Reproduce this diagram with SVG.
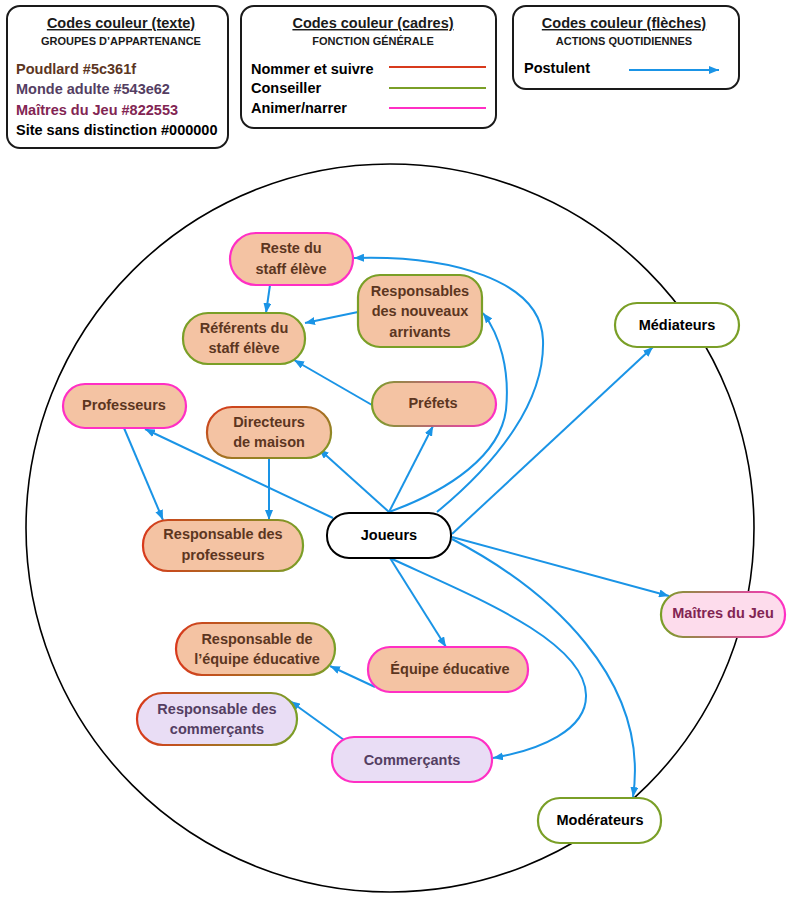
<svg xmlns="http://www.w3.org/2000/svg" width="787" height="900" viewBox="0 0 787 900">
<defs>
<style>
.box{fill:#fff;stroke:#1a1a1a;stroke-width:2}
.t{font-family:"Liberation Sans",Arial,sans-serif;font-weight:bold;font-size:14.5px}
.c{text-anchor:middle}
.sub{font-family:"Liberation Sans",Arial,sans-serif;font-weight:bold;font-size:11px;text-anchor:middle;fill:#1a1a1a}
.brown{fill:#5c361f}
.purple{fill:#543e62}
.mj{fill:#822553}
.blk{fill:#000}
.peach{fill:#f4c3a3}
.lav{fill:#e9ddf5}
.pinkf{fill:#fddcec}
.white{fill:#fff}
.sp{stroke:#ff2fc4;stroke-width:2.2}
.sg{stroke:#7a9f27;stroke-width:2.2}
.sk{stroke:#000;stroke-width:2}
.srg{stroke:url(#gRG);stroke-width:2.2}
.srgd{stroke:url(#gRGd);stroke-width:2.2}
.sgp{stroke:url(#gGP);stroke-width:2.2}
.arr{fill:none;stroke:#1a94e6;stroke-width:2;marker-end:url(#ah)}
</style>
<linearGradient id="gRG" x1="0" y1="0" x2="1" y2="0">
<stop offset="0" stop-color="#d83a1c"/><stop offset="1" stop-color="#7a9f27"/>
</linearGradient>
<linearGradient id="gRGd" x1="0" y1="0" x2="1" y2="1">
<stop offset="0" stop-color="#d83a1c"/><stop offset="1" stop-color="#7a9f27"/>
</linearGradient>
<linearGradient id="gGP" x1="0" y1="0" x2="1" y2="0">
<stop offset="0" stop-color="#7a9f27"/><stop offset="1" stop-color="#ff2fc4"/>
</linearGradient>
<marker id="ah" markerUnits="userSpaceOnUse" markerWidth="10" markerHeight="8" viewBox="0 0 10 8" refX="10" refY="4" orient="auto">
<path d="M0,0 L10,4 L0,8 z" fill="#1a94e6"/>
</marker>
</defs>
<rect width="787" height="900" fill="#fff"/>

<g id="legend-texte">
<rect class="box" x="7" y="6" width="221" height="142" rx="13"/>
<text class="t c" x="121" y="28" text-decoration="underline" fill="#1a1a1a">Codes couleur (texte)</text>
<text class="sub" x="121" y="45">GROUPES D’APPARTENANCE</text>
<text class="t brown" x="16" y="74">Poudlard #5c361f</text>
<text class="t purple" x="16" y="94">Monde adulte #543e62</text>
<text class="t mj" x="16" y="115">Maîtres du Jeu #822553</text>
<text class="t blk" x="16" y="135">Site sans distinction #000000</text>
</g>

<g id="legend-cadres">
<rect class="box" x="241" y="6" width="255" height="122" rx="13"/>
<text class="t c" x="373" y="28" text-decoration="underline" fill="#1a1a1a">Codes couleur (cadres)</text>
<text class="sub" x="373" y="45">FONCTION GÉNÉRALE</text>
<text class="t blk" x="251" y="74">Nommer et suivre</text>
<text class="t blk" x="251" y="93">Conseiller</text>
<text class="t blk" x="251" y="113">Animer/narrer</text>
<line x1="389" y1="67" x2="486" y2="67" stroke="#d83a1c" stroke-width="2"/>
<line x1="389" y1="88" x2="486" y2="88" stroke="#7a9f27" stroke-width="2"/>
<line x1="389" y1="108" x2="486" y2="108" stroke="#ff2fc4" stroke-width="2"/>
</g>

<g id="legend-fleches">
<rect class="box" x="513" y="6" width="226" height="83" rx="13"/>
<text class="t c" x="624" y="28" text-decoration="underline" fill="#1a1a1a">Codes couleur (flèches)</text>
<text class="sub" x="624" y="45">ACTIONS QUOTIDIENNES</text>
<text class="t blk" x="524" y="73">Postulent</text>
<line class="arr" x1="629" y1="70" x2="719" y2="70"/>
</g>

<circle id="site" cx="390" cy="528" r="364" fill="none" stroke="#000" stroke-width="1.6"/>

<g id="connectors">
<line class="arr" x1="270" y1="285" x2="266" y2="313"/>
<line class="arr" x1="358" y1="312" x2="305" y2="323"/>
<line class="arr" x1="372" y1="405" x2="294" y2="360"/>
<line class="arr" x1="124" y1="428" x2="163" y2="520"/>
<line class="arr" x1="269" y1="458" x2="269" y2="520"/>
<line class="arr" x1="333" y1="518" x2="145" y2="429"/>
<line class="arr" x1="389" y1="512" x2="319" y2="449"/>
<line class="arr" x1="389" y1="512" x2="433" y2="426"/>
<path class="arr" d="M389,512 C450,490 500,455 506,410 C510,370 500,335 483,313"/>
<path class="arr" d="M437,512 C500,460 545,400 543,340 C541,280 450,255 354,258"/>
<line class="arr" x1="452" y1="534" x2="653" y2="347"/>
<line class="arr" x1="452" y1="537" x2="669" y2="596"/>
<path class="arr" d="M452,539 C550,590 650,680 633,797"/>
<path class="arr" d="M390,558 C470,595 585,640 586,695 C587,730 540,750 493,758"/>
<line class="arr" x1="390" y1="558" x2="446" y2="647"/>
<line class="arr" x1="375" y1="687" x2="330" y2="666"/>
<line class="arr" x1="344" y1="740" x2="290" y2="701"/>
</g>

<g id="reste-staff">
<rect class="peach sp" x="230" y="233" width="123" height="52" rx="26"/>
<text class="t c brown" x="291" y="253">Reste du</text>
<text class="t c brown" x="291" y="274">staff élève</text>
</g>
<g id="referents">
<rect class="peach sg" x="183" y="313" width="122" height="51" rx="25"/>
<text class="t c brown" x="244" y="333">Référents du</text>
<text class="t c brown" x="244" y="353">staff élève</text>
</g>
<g id="nouveaux">
<rect class="peach sg" x="358" y="275" width="124" height="72" rx="22"/>
<text class="t c brown" x="420" y="296">Responsables</text>
<text class="t c brown" x="420" y="316">des nouveaux</text>
<text class="t c brown" x="420" y="337">arrivants</text>
</g>
<g id="prefets">
<rect class="peach sgp" x="372" y="382" width="124" height="44" rx="22"/>
<text class="t c brown" x="433" y="408">Préfets</text>
</g>
<g id="professeurs">
<rect class="peach sp" x="63" y="384" width="123" height="44" rx="22"/>
<text class="t c brown" x="124" y="410">Professeurs</text>
</g>
<g id="directeurs">
<rect class="peach srgd" x="207" y="407" width="124" height="51" rx="25"/>
<text class="t c brown" x="269" y="427">Directeurs</text>
<text class="t c brown" x="269" y="447">de maison</text>
</g>
<g id="resp-prof">
<rect class="peach srg" x="143" y="520" width="160" height="51" rx="25"/>
<text class="t c brown" x="223" y="539">Responsable des</text>
<text class="t c brown" x="223" y="560">professeurs</text>
</g>
<g id="joueurs">
<rect class="white sk" x="327" y="513" width="124" height="45" rx="22"/>
<text class="t c blk" x="389" y="540">Joueurs</text>
</g>
<g id="mediateurs">
<rect class="white sg" x="615" y="303" width="124" height="44" rx="22"/>
<text class="t c blk" x="677" y="330">Médiateurs</text>
</g>
<g id="maitres">
<rect class="pinkf sgp" x="661" y="592" width="124" height="45" rx="22"/>
<text class="t c mj" x="723" y="618">Maîtres du Jeu</text>
</g>
<g id="resp-edu">
<rect class="peach srg" x="176" y="623" width="159" height="52" rx="26"/>
<text class="t c brown" x="257" y="644">Responsable de</text>
<text class="t c brown" x="257" y="664">l’équipe éducative</text>
</g>
<g id="equipe">
<rect class="peach sp" x="368" y="647" width="160" height="45" rx="22"/>
<text class="t c brown" x="450" y="674">Équipe éducative</text>
</g>
<g id="resp-comm">
<rect class="lav srg" x="137" y="693" width="160" height="52" rx="26"/>
<text class="t c purple" x="217" y="714">Responsable des</text>
<text class="t c purple" x="217" y="734">commerçants</text>
</g>
<g id="commercants">
<rect class="lav sp" x="332" y="737" width="160" height="45" rx="22"/>
<text class="t c purple" x="412" y="765">Commerçants</text>
</g>
<g id="moderateurs">
<rect class="white sg" x="538" y="798" width="123" height="45" rx="22"/>
<text class="t c blk" x="600" y="825">Modérateurs</text>
</g>
</svg>
